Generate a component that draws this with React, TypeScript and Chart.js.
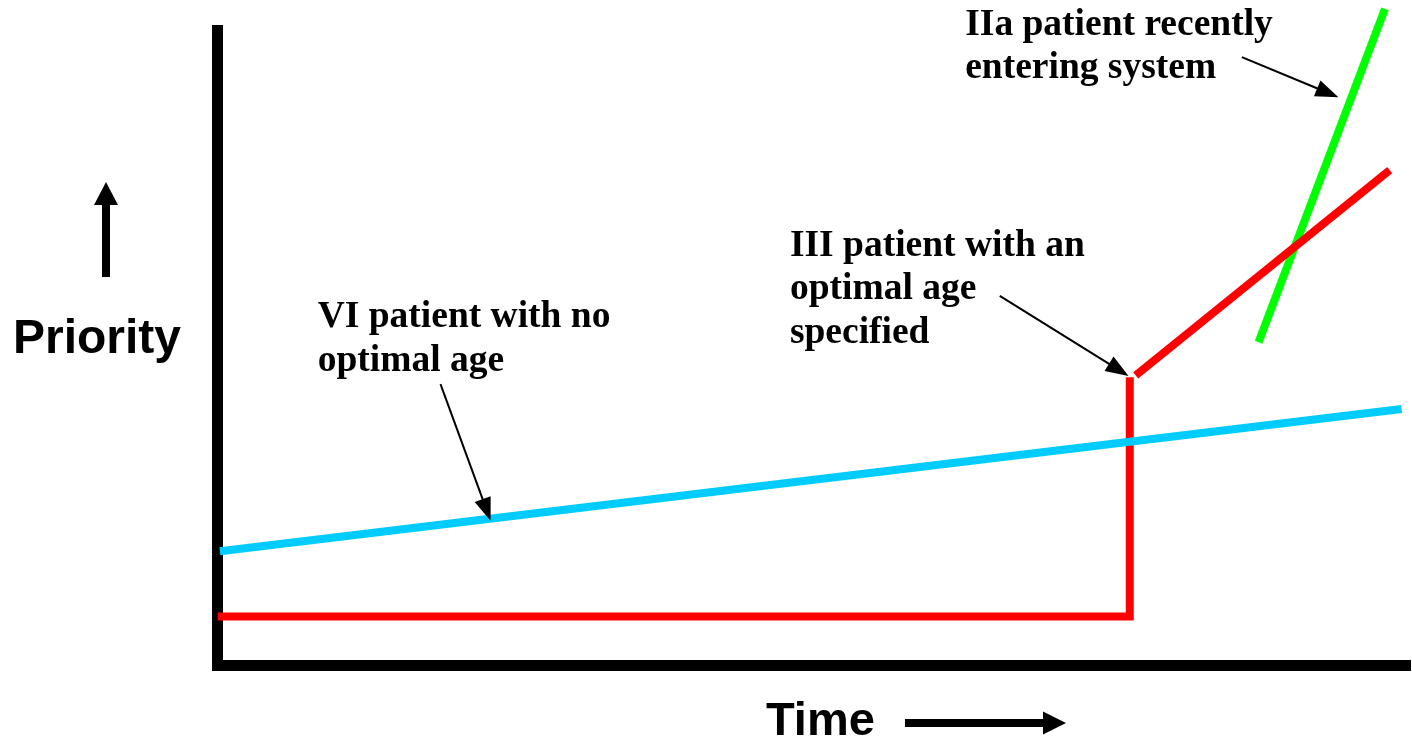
import React, { useEffect, useRef } from "react";
import { Chart, registerables } from "chart.js";

Chart.register(...registerables);

// ---- data (arbitrary units: time 0–100, priority 0–100) ----
const noOptimalTime = [0.2, 99.3];
const noOptimalPriority = [18.0, 40.4];

const optimalWaitTime = [0, 76.5, 76.5];
const optimalWaitPriority = [7.7, 7.7, 45.4];

const optimalAfterTime = [77.0, 98.3];
const optimalAfterPriority = [45.7, 78.0];

const newEntryTime = [87.3, 97.9];
const newEntryPriority = [50.9, 103.4];

const axisTitleX = "Time";
const axisTitleY = "Priority";

const noteLines = [
  ["VI patient with no", "optimal age"],
  ["III patient with an", "optimal age", "specified"],
  ["IIa patient recently", "entering system"],
];
const noteTextTime = [8.4, 48.0, 62.7];
const noteTextPriority = [53.3, 64.5, 99.3];
const noteArrowFromTime = [18.7, 65.6, 85.9];
const noteArrowFromPriority = [44.3, 58.2, 95.8];
const noteArrowToTime = [22.9, 76.4, 94.0];
const noteArrowToPriority = [22.8, 45.6, 89.5];

const toPoints = (xs: number[], ys: number[]) => xs.map((x, i) => ({ x, y: ys[i] }));

function drawArrow(
  ctx: CanvasRenderingContext2D,
  x1: number, y1: number, x2: number, y2: number,
  shaft: number, headLen: number, headWidth: number
) {
  const dx = x2 - x1, dy = y2 - y1;
  const len = Math.hypot(dx, dy);
  const ux = dx / len, uy = dy / len;
  const bx = x2 - ux * headLen, by = y2 - uy * headLen;
  ctx.save();
  ctx.strokeStyle = "#000";
  ctx.fillStyle = "#000";
  ctx.lineWidth = shaft;
  ctx.lineCap = "butt";
  ctx.beginPath();
  ctx.moveTo(x1, y1);
  ctx.lineTo(bx + ux * 1, by + uy * 1);
  ctx.stroke();
  ctx.beginPath();
  ctx.moveTo(x2, y2);
  ctx.lineTo(bx - uy * headWidth / 2, by + ux * headWidth / 2);
  ctx.lineTo(bx + uy * headWidth / 2, by - ux * headWidth / 2);
  ctx.closePath();
  ctx.fill();
  ctx.restore();
}

const annotationPlugin = {
  id: "annotations",
  afterDraw(chart: any) {
    const ctx: CanvasRenderingContext2D = chart.ctx;
    const xs = chart.scales.x;
    const ys = chart.scales.y;
    ctx.save();
    ctx.fillStyle = "#000";
    ctx.textAlign = "left";
    ctx.textBaseline = "alphabetic";
    ctx.font = 'bold 37.5px "Liberation Serif", "Times New Roman", serif';
    noteLines.forEach((lines, i) => {
      const px = xs.getPixelForValue(noteTextTime[i]);
      const py = ys.getPixelForValue(noteTextPriority[i]);
      lines.forEach((line, j) => ctx.fillText(line, px, py + j * 43.5));
      drawArrow(
        ctx,
        xs.getPixelForValue(noteArrowFromTime[i]),
        ys.getPixelForValue(noteArrowFromPriority[i]),
        xs.getPixelForValue(noteArrowToTime[i]),
        ys.getPixelForValue(noteArrowToPriority[i]),
        2, 23, 17
      );
    });

    // axis titles with their direction arrows
    ctx.font = 'bold 48px "Liberation Sans", Arial, sans-serif';
    ctx.fillText(axisTitleY, 13, 353);
    drawArrow(ctx, 106, 277, 106, 182, 8, 23, 24);
    ctx.font = 'bold 47px "Liberation Sans", Arial, sans-serif';
    ctx.fillText(axisTitleX, 766, 735);
    drawArrow(ctx, 905, 723, 1066, 723, 8, 23, 23);
    ctx.restore();
  },
};

export default function App() {
  const ref = useRef<HTMLCanvasElement | null>(null);
  useEffect(() => {
    if (!ref.current) return;
    const common = {
      showLine: true,
      borderWidth: 8,
      pointRadius: 0,
      pointHoverRadius: 0,
      tension: 0,
      borderCapStyle: "butt",
      borderJoinStyle: "miter",
      fill: false,
    };
    const chart = new Chart(ref.current, {
      type: "scatter",
      data: {
        datasets: [
          { ...common, label: "VI", data: toPoints(noOptimalTime, noOptimalPriority), borderColor: "#00CCFF", backgroundColor: "#00CCFF" },
          { ...common, label: "III wait", data: toPoints(optimalWaitTime, optimalWaitPriority), borderColor: "#FF0000", backgroundColor: "#FF0000" },
          { ...common, label: "III after", data: toPoints(optimalAfterTime, optimalAfterPriority), borderColor: "#FF0000", backgroundColor: "#FF0000" },
          { ...common, label: "IIa", data: toPoints(newEntryTime, newEntryPriority), borderColor: "#00FF00", backgroundColor: "#00FF00", clip: false },
        ] as any,
      },
      options: {
        responsive: false,
        animation: false,
        devicePixelRatio: 1,
        layout: { padding: { left: 217.5, top: 30.5, right: 2, bottom: 74.5 } },
        plugins: { legend: { display: false }, tooltip: { enabled: false }, title: { display: false } },
        events: [],
        scales: {
          x: {
            type: "linear",
            min: 0,
            max: 100,
            grid: { display: false, drawTicks: false },
            ticks: { display: false },
            border: { display: true, color: "#000", width: 11 },
          },
          y: {
            type: "linear",
            min: 0,
            max: 100,
            grid: { display: false, drawTicks: false },
            ticks: { display: false },
            border: { display: true, color: "#000", width: 11 },
          },
        },
      } as any,
      plugins: [annotationPlugin],
    });
    return () => chart.destroy();
  }, []);
  return (
    <div style={{ position: "absolute", left: 0, top: 0, width: 1412, height: 740, background: "#fff" }}>
      <canvas ref={ref} width={1412} height={740} style={{ display: "block" }} />
    </div>
  );
}
